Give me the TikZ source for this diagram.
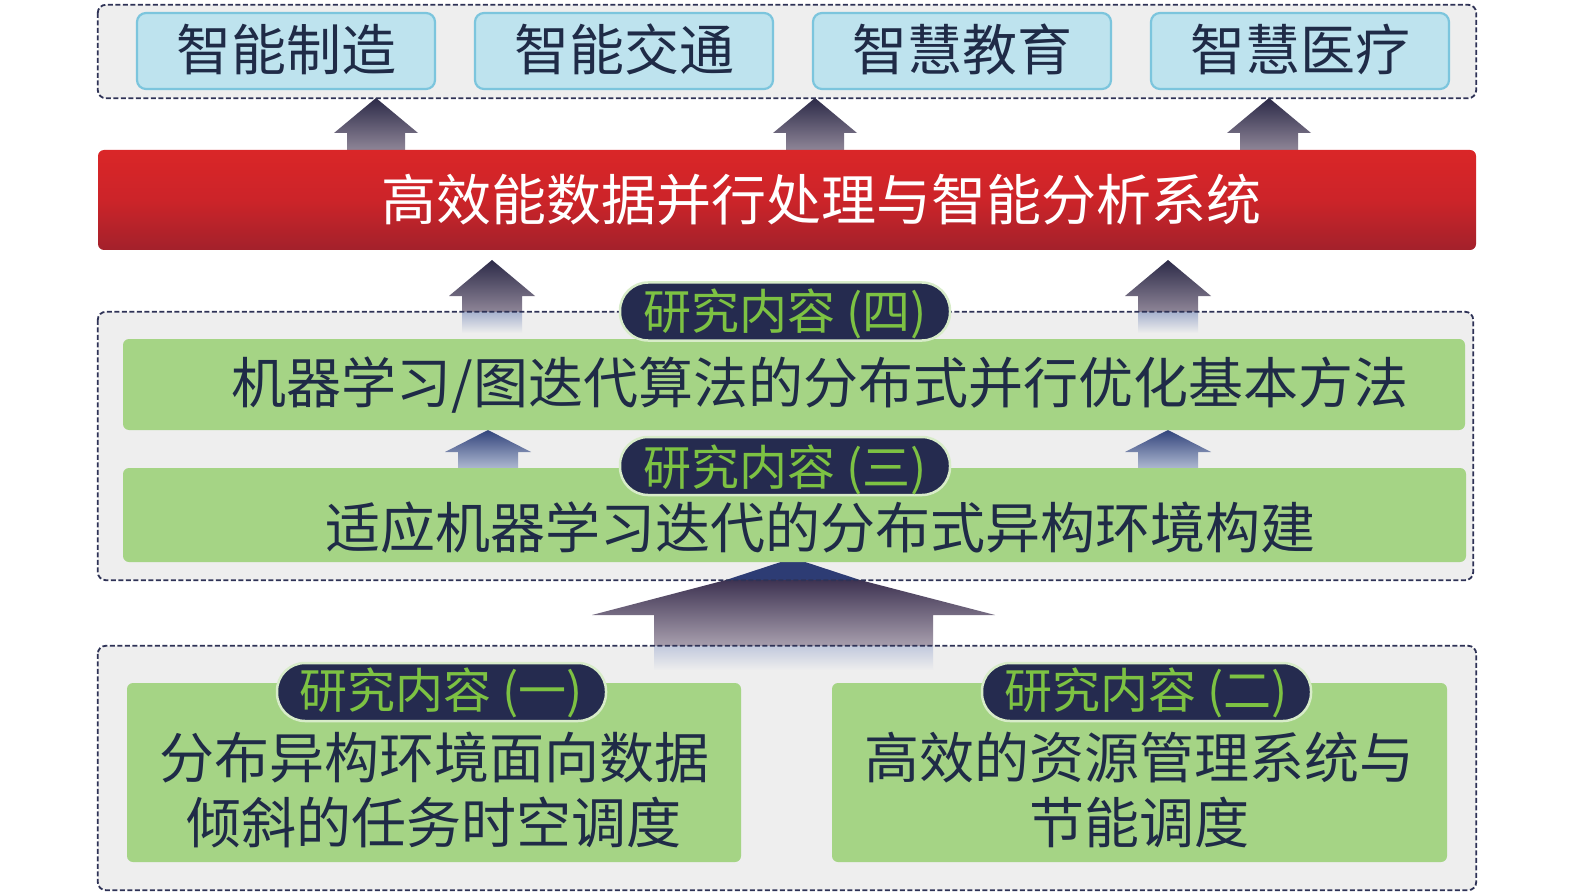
\documentclass[tikz,border=0pt]{standalone}
\usepackage{fontspec}
\newfontfamily\cjk{Noto Sans CJK SC}
\definecolor{cgray}{HTML}{EEEEEE}
\definecolor{cnavy}{HTML}{2E3256}
\definecolor{boxblue}{HTML}{BEE3EE}
\definecolor{boxline}{HTML}{7CC5DD}
\definecolor{bandgreen}{HTML}{A5D485}
\definecolor{txtnavy}{HTML}{1F2B47}
\definecolor{badgefill}{HTML}{252B4F}
\definecolor{badgetext}{HTML}{7DC243}
\definecolor{badgeline}{HTML}{D8ECC9}
\definecolor{redtop}{HTML}{DA2628}
\definecolor{redmid}{HTML}{CC2429}
\definecolor{redbot}{HTML}{A3212B}
\definecolor{arrdark}{HTML}{2C2A48}
\definecolor{arrlight}{HTML}{8E8597}
\definecolor{arrblue}{HTML}{A7B2CE}
\definecolor{arrbluedark}{HTML}{32447C}
\definecolor{arrbluelight}{HTML}{B0BAD2}
\definecolor{bigblue}{HTML}{2D3C74}
\definecolor{bigtop}{HTML}{3E3352}
\definecolor{bigbot}{HTML}{A89FAE}
\definecolor{fadeblue}{HTML}{C2C9DD}
\newcommand\blkarrow[7]{\path[#7] (#1,#2) -- ({#1+#5},#3) -- ({#1+#6},#3) -- ({#1+#6},#4) -- ({#1-#6},#4) -- ({#1-#6},#3) -- ({#1-#5},#3) -- cycle;}
\begin{document}
\begin{tikzpicture}[x=1pt,y=-1pt,
  contfill/.style={rectangle, fill=cgray, inner sep=0pt, rounded corners=8pt},
  contline/.style={draw=cnavy, line width=1.8pt, dash pattern=on 5pt off 2.5pt, rounded corners=8pt},
  appbox/.style={rectangle, fill=boxblue, draw=boxline, line width=2.2pt, rounded corners=9pt, minimum width=298pt, minimum height=76pt, inner sep=0pt},
  band/.style={rectangle, fill=bandgreen, rounded corners=6pt, inner sep=0pt},
  badge/.style={rectangle, fill=badgefill, draw=badgeline, line width=2.5pt, rounded corners=28pt, minimum width=330pt, minimum height=58pt, inner sep=0pt},
  bigtxt/.style={anchor=base, inner sep=0pt, text=txtnavy, font=\cjk\fontsize{55}{66}\selectfont},
  badgetxt/.style={anchor=base, inner sep=0pt, text=badgetext, font=\cjk\fontsize{48}{52}\selectfont},
]
\useasboundingbox (0,0) rectangle (1575,896);
\fill[white] (0,0) rectangle (1575,896);

% container fills
\node[contfill, minimum width=1378pt, minimum height=93pt] (topc) at (787,51.5) {};
\node[contfill, minimum width=1375pt, minimum height=268pt] (midc) at (785.5,446) {};
\node[contfill, minimum width=1378pt, minimum height=244pt] (botc) at (787,768) {};

% arrows: applications <- system
\blkarrow{376}{98}{133}{150}{42}{29}{top color=arrdark, bottom color=arrlight}
\blkarrow{815}{98}{133}{150}{42}{29}{top color=arrdark, bottom color=arrlight}
\blkarrow{1269}{98}{133}{150}{42}{29}{top color=arrdark, bottom color=arrlight}

% arrows: system <- research (four)
\blkarrow{492}{260}{296}{312}{43}{30}{top color=arrdark, bottom color=arrlight}
\blkarrow{1168}{260}{296}{312}{43}{30}{top color=arrdark, bottom color=arrlight}
\shade[top color=arrblue, bottom color=cgray] (462,312) rectangle (522,333);
\shade[top color=arrblue, bottom color=cgray] (1138,312) rectangle (1198,333);

% arrows: between bands
\blkarrow{488}{430}{452}{469}{43}{30}{top color=arrbluedark, bottom color=arrbluelight}
\blkarrow{1168}{430}{452}{469}{43}{30}{top color=arrbluedark, bottom color=arrbluelight}

% big arrow
\fill[bigblue] (793,558) -- (860,580) -- (726,580) -- cycle;
\shade[top color=bigtop, bottom color=bigbot] (726,580) -- (860,580) -- (995,615) -- (933,615) -- (933,646) -- (654,646) -- (654,615) -- (592,615) -- cycle;
\shade[top color=fadeblue, bottom color=cgray] (654,646) rectangle (933,670);

% container borders
\draw[contline] (topc.north west) rectangle (topc.south east);
\draw[contline] (midc.north west) rectangle (midc.south east);
\draw[contline] (botc.north west) rectangle (botc.south east);

% application boxes
\node[appbox] (app1) at (286,51) {};
\node[appbox] (app2) at (624,51) {};
\node[appbox] (app3) at (962,51) {};
\node[appbox] (app4) at (1300,51) {};
\node[bigtxt] (app1t) at (286,71) {智能制造};
\node[bigtxt] (app2t) at (624,71) {智能交通};
\node[bigtxt] (app3t) at (962,71) {智慧教育};
\node[bigtxt] (app4t) at (1300,71) {智慧医疗};

% system bar
\node[rectangle, rounded corners=6pt, minimum width=1378pt, minimum height=100pt, inner sep=0pt,
      top color=redtop, bottom color=redbot, middle color=redmid] (sys) at (787,200) {};
\node[bigtxt, text=white] (syst) at (821,221) {高效能数据并行处理与智能分析系统};

% middle bands
\node[band, minimum width=1342pt, minimum height=91pt] (band4) at (794,384.5) {};
\node[band, minimum width=1343pt, minimum height=94pt] (band3) at (794.5,515) {};
\node[bigtxt] (band4t) at (820,403) {机器学习/图迭代算法的分布式并行优化基本方法};
\node[bigtxt] (band3t) at (820,548) {适应机器学习迭代的分布式异构环境构建};
\node[badge] (badge4) at (785,311.5) {};
\node[badgetxt] (badge4t) at (785,329) {研究内容 (四)};
\node[badge] (badge3) at (785,466) {};
\node[badgetxt] (badge3t) at (785,485) {研究内容 (三)};

% bottom boxes
\node[band, minimum width=614pt, minimum height=179pt] (box1) at (434,772.5) {};
\node[band, minimum width=615pt, minimum height=179pt] (box2) at (1139.5,772.5) {};
\node[badge, minimum width=329pt] (badge1) at (441.5,692) {};
\node[badge, minimum width=329pt] (badge2) at (1146.5,692) {};
\node[badgetxt] (badge1t) at (441.5,708) {研究内容 (一)};
\node[badgetxt] (badge2t) at (1146.5,708) {研究内容 (二)};
\node[bigtxt] (box1a) at (434,778) {分布异构环境面向数据};
\node[bigtxt] (box1b) at (434,843) {倾斜的任务时空调度};
\node[bigtxt] (box2a) at (1139.5,778) {高效的资源管理系统与};
\node[bigtxt] (box2b) at (1139.5,843) {节能调度};
\end{tikzpicture}
\end{document}
